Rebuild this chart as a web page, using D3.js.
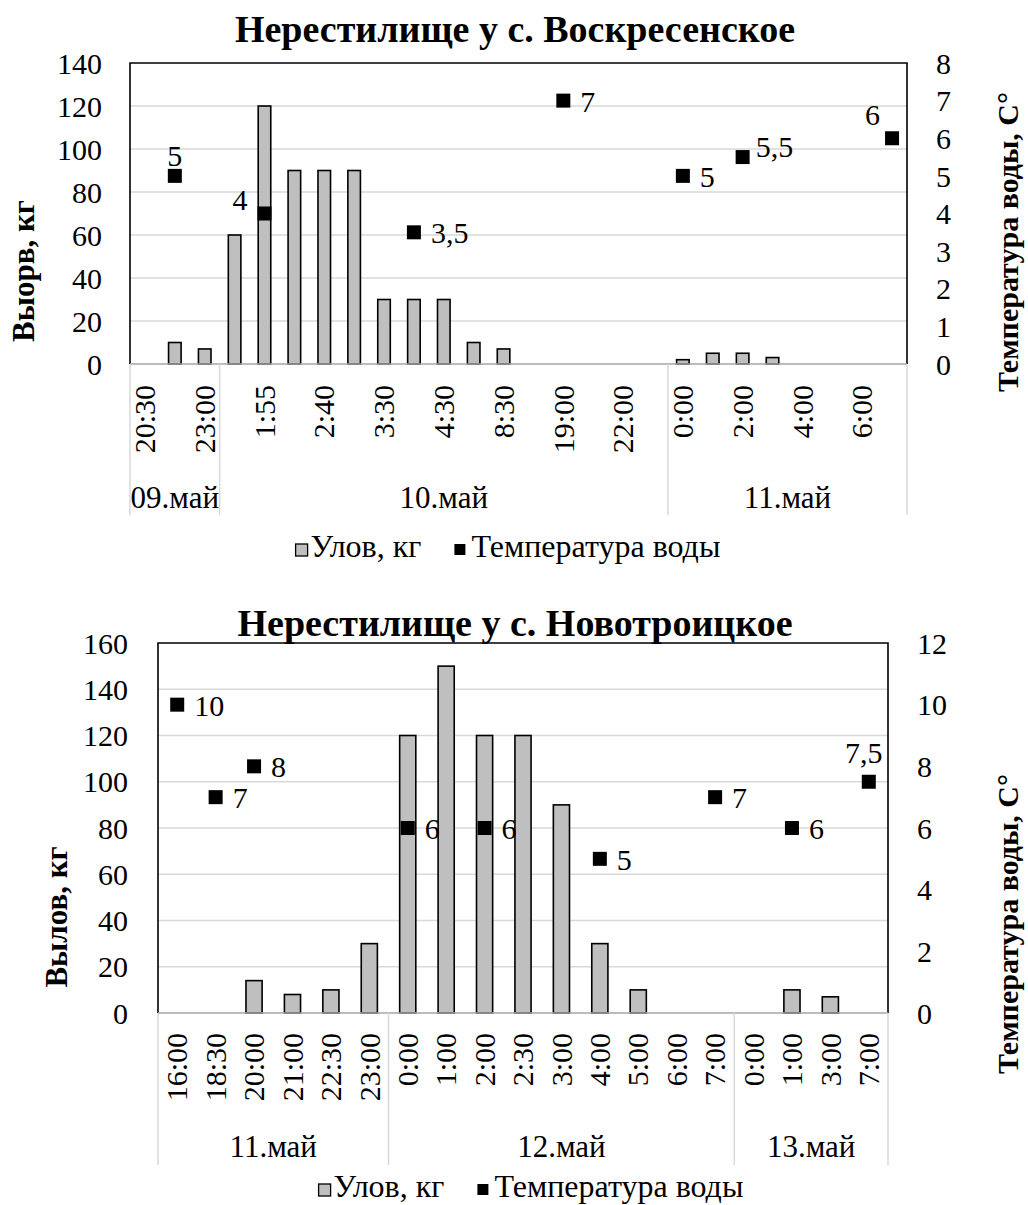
<!DOCTYPE html>
<html>
<head>
<meta charset="utf-8">
<script src="https://cdn.jsdelivr.net/npm/d3@7"></script>
<style>
  html, body { margin: 0; padding: 0; background: #fff; }
  svg { display: block; }
  svg text { font-family: "Liberation Serif", "Tinos", "DejaVu Serif", "Noto Serif", "Times New Roman", serif; fill: #000; }
</style>
</head>
<body>
<svg id="chart" width="1028" height="1205"></svg>
<script>
// ---- Нерестилище у с. Воскресенское ----
const topTimes = ["20:30", null, "23:00", null, "1:55", null, "2:40", null, "3:30", null,
  "4:30", null, "8:30", null, "19:00", null, "22:00", null, "0:00", null,
  "2:00", null, "4:00", null, "6:00", null];
const topDays = ["09.май", "10.май", "11.май"];
const topDayCounts = [3, 15, 8];
const topCatch = [null, 10, 7, 60, 120, 90, 90, 90, 30, 30, 30, 10, 7, null, null, null, null, null,
  2, 5, 5, 3, null, null, null, null];
const topTemp = [null, 5, null, null, 4, null, null, null, null, 3.5, null, null, null, null, 7,
  null, null, null, 5, null, 5.5, null, null, null, null, 6];
const topLeftTicks = [0, 20, 40, 60, 80, 100, 120, 140];
const topRightTicks = [0, 1, 2, 3, 4, 5, 6, 7, 8];

// ---- Нерестилище у с. Новотроицкое ----
const bottomTimes = ["16:00", "18:30", "20:00", "21:00", "22:30", "23:00",
  "0:00", "1:00", "2:00", "2:30", "3:00", "4:00", "5:00", "6:00", "7:00",
  "0:00", "1:00", "3:00", "7:00"];
const bottomDays = ["11.май", "12.май", "13.май"];
const bottomDayCounts = [6, 9, 4];
const bottomCatch = [null, null, 14, 8, 10, 30, 120, 150, 120, 120, 90, 30, 10, null, null, null, 10, 7, null];
const bottomTemp = [10, 7, 8, null, null, null, 6, null, 6, null, null, 5, null, null, 7, null, 6, null, 7.5];
const bottomLeftTicks = [0, 20, 40, 60, 80, 100, 120, 140, 160];
const bottomRightTicks = [0, 2, 4, 6, 8, 10, 12];

const legendLabels = ["Улов, кг", "Температура воды"];

// placement of the temperature value labels around their markers
const topLabelPlace = {1: "above", 4: "left", 9: "right", 14: "right", 18: "right", 20: "rightUp", 25: "aboveLeft"};
const bottomLabelPlace = {0: "right", 1: "right", 2: "right", 6: "right", 8: "right", 11: "right",
  14: "right", 16: "right", 18: "aboveHigh"};

const FONT = "Liberation Serif, Tinos, DejaVu Serif, Noto Serif, serif";
const svg = d3.select("#chart");
svg.append("rect").attr("width", 1028).attr("height", 1205).attr("fill", "#fff");

const fmt = v => String(v).replace(".", ",");

function drawChart(cfg) {
  const g = svg.append("g").attr("font-family", FONT);
  const n = cfg.times.length;
  const idx = d3.range(n);
  const x = d3.scaleBand().domain(idx).range([cfg.left, cfg.right]).padding(0);
  const step = x.bandwidth();
  const cx = i => x(i) + step / 2;
  const yL = d3.scaleLinear().domain(cfg.leftDomain).range([cfg.bottom, cfg.top]);
  const yR = d3.scaleLinear().domain(cfg.rightDomain).range([cfg.bottom, cfg.top]);

  // title
  g.append("text").attr("x", cfg.titleX).attr("y", cfg.titleY)
    .attr("text-anchor", "middle").attr("font-size", 38).attr("font-weight", "bold")
    .text(cfg.title);

  // horizontal gridlines
  g.append("g").selectAll("line").data(cfg.leftTicks.filter(t => t > 0 && t < cfg.leftDomain[1]))
    .join("line")
    .attr("x1", cfg.left).attr("x2", cfg.right)
    .attr("y1", d => yL(d)).attr("y2", d => yL(d))
    .attr("stroke", "#d9d9d9").attr("stroke-width", 1.5);

  // left value axis
  const axL = g.append("g").attr("transform", `translate(${cfg.left},0)`)
    .call(d3.axisLeft(yL).tickValues(cfg.leftTicks).tickSize(0).tickPadding(cfg.leftPad).tickFormat(d => d));
  axL.attr("font-family", FONT).attr("font-size", 30);
  axL.select(".domain").remove();
  axL.selectAll("text").attr("dy", "0.34em");

  // right value axis
  const axR = g.append("g").attr("transform", `translate(${cfg.right},0)`)
    .call(d3.axisRight(yR).tickValues(cfg.rightTicks).tickSize(0).tickPadding(cfg.rightPad).tickFormat(d => d));
  axR.attr("font-family", FONT).attr("font-size", 30);
  axR.select(".domain").remove();
  axR.selectAll("text").attr("dy", "0.34em");

  // catch bars
  const bw = step * cfg.barRatio;
  g.append("g").selectAll("rect")
    .data(idx.filter(i => cfg.catchVals[i] != null))
    .join("rect")
    .attr("x", i => cx(i) - bw / 2).attr("width", bw)
    .attr("y", i => yL(cfg.catchVals[i]))
    .attr("height", i => yL(0) - yL(cfg.catchVals[i]))
    .attr("fill", "#bfbfbf").attr("stroke", "#000").attr("stroke-width", 1.6);

  // plot frame (top, left, right in black; category axis line in gray)
  g.append("path")
    .attr("d", `M${cfg.left},${cfg.bottom}V${cfg.top}H${cfg.right}V${cfg.bottom}`)
    .attr("fill", "none").attr("stroke", "#000").attr("stroke-width", 1.6);
  g.append("line").attr("x1", cfg.left).attr("x2", cfg.right)
    .attr("y1", cfg.bottom).attr("y2", cfg.bottom)
    .attr("stroke", "#a6a6a6").attr("stroke-width", 1.6);

  // day group separators
  let acc = 0;
  const bounds = [0];
  cfg.dayCounts.forEach(c => { acc += c; bounds.push(acc); });
  const bx = k => (k === n ? cfg.right : x(k));
  g.append("g").selectAll("line").data(bounds).join("line")
    .attr("x1", k => bx(k)).attr("x2", k => bx(k))
    .attr("y1", cfg.bottom).attr("y2", cfg.sepBottom)
    .attr("stroke", "#d9d9d9").attr("stroke-width", 1.5);

  // time labels (rotated)
  g.append("g").selectAll("text").data(idx.filter(i => cfg.times[i] != null)).join("text")
    .attr("transform", i => `translate(${cx(i)},${cfg.bottom + cfg.timeGap}) rotate(-90)`)
    .attr("text-anchor", "end").attr("dy", "0.34em").attr("font-size", 30)
    .text(i => cfg.times[i]);

  // day labels
  g.append("g").selectAll("text").data(cfg.days).join("text")
    .attr("x", (d, k) => (bx(bounds[k]) + bx(bounds[k + 1])) / 2)
    .attr("y", cfg.dayY).attr("text-anchor", "middle").attr("font-size", 31)
    .text(d => d);

  // temperature markers
  const ms = 14;
  const pts = idx.filter(i => cfg.tempVals[i] != null);
  g.append("g").selectAll("rect").data(pts).join("rect")
    .attr("x", i => cx(i) - ms / 2).attr("y", i => yR(cfg.tempVals[i]) - ms / 2)
    .attr("width", ms).attr("height", ms).attr("fill", "#000");

  // temperature value labels
  const place = {
    right: {dx: 17, dy: 11, anchor: "start"},
    rightUp: {dx: 13, dy: 0, anchor: "start"},
    left: {dx: -17, dy: -4, anchor: "end"},
    above: {dx: 0, dy: -10, anchor: "middle"},
    aboveHigh: {dx: -5, dy: -19, anchor: "middle"},
    aboveLeft: {dx: -12, dy: -13, anchor: "end"}
  };
  g.append("g").selectAll("text").data(pts).join("text")
    .attr("x", i => cx(i) + place[cfg.labelPlace[i]].dx)
    .attr("y", i => yR(cfg.tempVals[i]) + place[cfg.labelPlace[i]].dy)
    .attr("text-anchor", i => place[cfg.labelPlace[i]].anchor)
    .attr("font-size", 30)
    .text(i => fmt(cfg.tempVals[i]));

  // axis titles
  g.append("text")
    .attr("transform", `translate(${cfg.leftTitleX},${cfg.leftTitleY}) rotate(-90)`)
    .attr("text-anchor", "middle").attr("dy", "0.34em")
    .attr("font-size", 31).attr("font-weight", "bold").text(cfg.leftTitle);
  g.append("text")
    .attr("transform", `translate(${cfg.rightTitleX},${cfg.rightTitleY}) rotate(-90)`)
    .attr("text-anchor", "middle").attr("dy", "0.34em")
    .attr("font-size", 30).attr("font-weight", "bold").text("Температура воды, С°");

  // legend
  const lg = g.append("g");
  const item1 = lg.append("g");
  item1.append("rect").attr("x", 0).attr("y", -13).attr("width", 12).attr("height", 12)
    .attr("fill", "#bfbfbf").attr("stroke", "#000").attr("stroke-width", 1.3);
  const t1 = item1.append("text").attr("x", 15).attr("y", 0).attr("font-size", 32).text(legendLabels[0]);
  const w1 = 15 + t1.node().getComputedTextLength();
  const gap = 33;
  const item2 = lg.append("g").attr("transform", `translate(${w1 + gap},0)`);
  item2.append("rect").attr("x", 0).attr("y", -13).attr("width", 11).attr("height", 11).attr("fill", "#000");
  const t2 = item2.append("text").attr("x", 17).attr("y", 0).attr("font-size", 32).text(legendLabels[1]);
  const wTot = w1 + gap + 17 + t2.node().getComputedTextLength();
  lg.attr("transform", `translate(${cfg.legendX - wTot / 2},${cfg.legendY})`);
}

drawChart({
  title: "Нерестилище у с. Воскресенское", titleX: 515, titleY: 42,
  times: topTimes, days: topDays, dayCounts: topDayCounts,
  catchVals: topCatch, tempVals: topTemp, labelPlace: topLabelPlace,
  left: 130, right: 907, top: 63, bottom: 364,
  leftDomain: [0, 140], rightDomain: [0, 8],
  leftTicks: topLeftTicks, rightTicks: topRightTicks,
  leftPad: 28, rightPad: 29,
  barRatio: 0.42, timeGap: 21, dayY: 508, sepBottom: 515,
  leftTitle: "Выорв, кг", leftTitleX: 23, leftTitleY: 271,
  rightTitleX: 1008, rightTitleY: 242,
  legendX: 508, legendY: 557
});

drawChart({
  title: "Нерестилище у с. Новотроицкое", titleX: 515, titleY: 636,
  times: bottomTimes, days: bottomDays, dayCounts: bottomDayCounts,
  catchVals: bottomCatch, tempVals: bottomTemp, labelPlace: bottomLabelPlace,
  left: 158, right: 888, top: 643, bottom: 1013,
  leftDomain: [0, 160], rightDomain: [0, 12],
  leftTicks: bottomLeftTicks, rightTicks: bottomRightTicks,
  leftPad: 30, rightPad: 29,
  barRatio: 0.42, timeGap: 20, dayY: 1157, sepBottom: 1165,
  leftTitle: "Вылов, кг", leftTitleX: 56, leftTitleY: 917,
  rightTitleX: 1008, rightTitleY: 924,
  legendX: 531, legendY: 1197
});
</script>
</body>
</html>
